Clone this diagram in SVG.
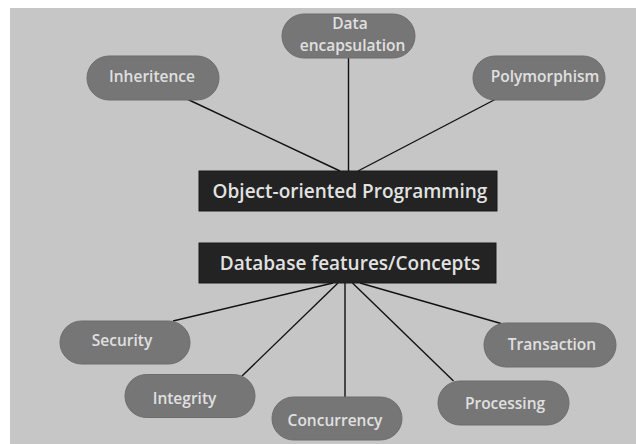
<svg xmlns="http://www.w3.org/2000/svg" width="636" height="444" viewBox="0 0 636 444">
<style>
.bg{fill:#c6c6c6}
.pill{fill:#767676;stroke:#6c6c6c;stroke-width:1}
.box{fill:#232323;stroke:#1a1a1a;stroke-width:1}
.lbl{font-family:"Open Sans","Liberation Sans",sans-serif;font-weight:600;font-size:15.5px;fill:#e0e0e0;text-anchor:middle}
.hd{font-family:"Open Sans","Liberation Sans",sans-serif;font-weight:600;font-size:19px;fill:#e2e2e2;text-anchor:middle}
.conn line{stroke:#111;stroke-width:1.4}
</style>
<rect class="bg" x="10" y="8" width="626" height="436"/>
<g id="connectors" class="conn">
<line x1="188" y1="99.5" x2="340" y2="171"/>
<line x1="348.5" y1="58" x2="348.5" y2="171"/>
<line x1="495" y1="99.5" x2="358" y2="171"/>
<line x1="173" y1="321" x2="333" y2="283"/>
<line x1="242" y1="376" x2="338" y2="283"/>
<line x1="345" y1="283" x2="345" y2="397"/>
<line x1="453.5" y1="381" x2="352.5" y2="283"/>
<line x1="501" y1="323.5" x2="360" y2="283"/>
</g>
<g id="inheritence">
<rect class="pill" x="87" y="56" width="132" height="44" rx="22"/>
<text class="lbl" x="152" y="82">Inheritence</text>
</g>
<g id="data-encapsulation">
<rect class="pill" x="282" y="14" width="133" height="44" rx="22"/>
<text class="lbl" x="350" y="29.3">Data</text>
<text class="lbl" x="352.5" y="50.7">encapsulation</text>
</g>
<g id="polymorphism">
<rect class="pill" x="473" y="56" width="132" height="44" rx="22"/>
<text class="lbl" x="545" y="82">Polymorphism</text>
</g>
<g id="oop">
<rect class="box" x="199" y="171" width="298" height="40"/>
<text class="hd" x="350" y="198">Object-oriented Programming</text>
</g>
<g id="db">
<rect class="box" x="199" y="243" width="297" height="40"/>
<text class="hd" x="350" y="270">Database features/Concepts</text>
</g>
<g id="security">
<rect class="pill" x="60" y="321" width="130" height="43" rx="21.5"/>
<text class="lbl" x="122" y="345.5">Security</text>
</g>
<g id="integrity">
<rect class="pill" x="125" y="374.5" width="130" height="43" rx="21.5"/>
<text class="lbl" x="184.5" y="403.5">Integrity</text>
</g>
<g id="concurrency">
<rect class="pill" x="272" y="397" width="130" height="43" rx="21.5"/>
<text class="lbl" x="335" y="425.5">Concurrency</text>
</g>
<g id="processing">
<rect class="pill" x="438" y="381" width="131" height="44" rx="22"/>
<text class="lbl" x="505" y="408.5">Processing</text>
</g>
<g id="transaction">
<rect class="pill" x="484" y="323" width="132" height="44" rx="22"/>
<text class="lbl" x="552" y="350">Transaction</text>
</g>
</svg>
